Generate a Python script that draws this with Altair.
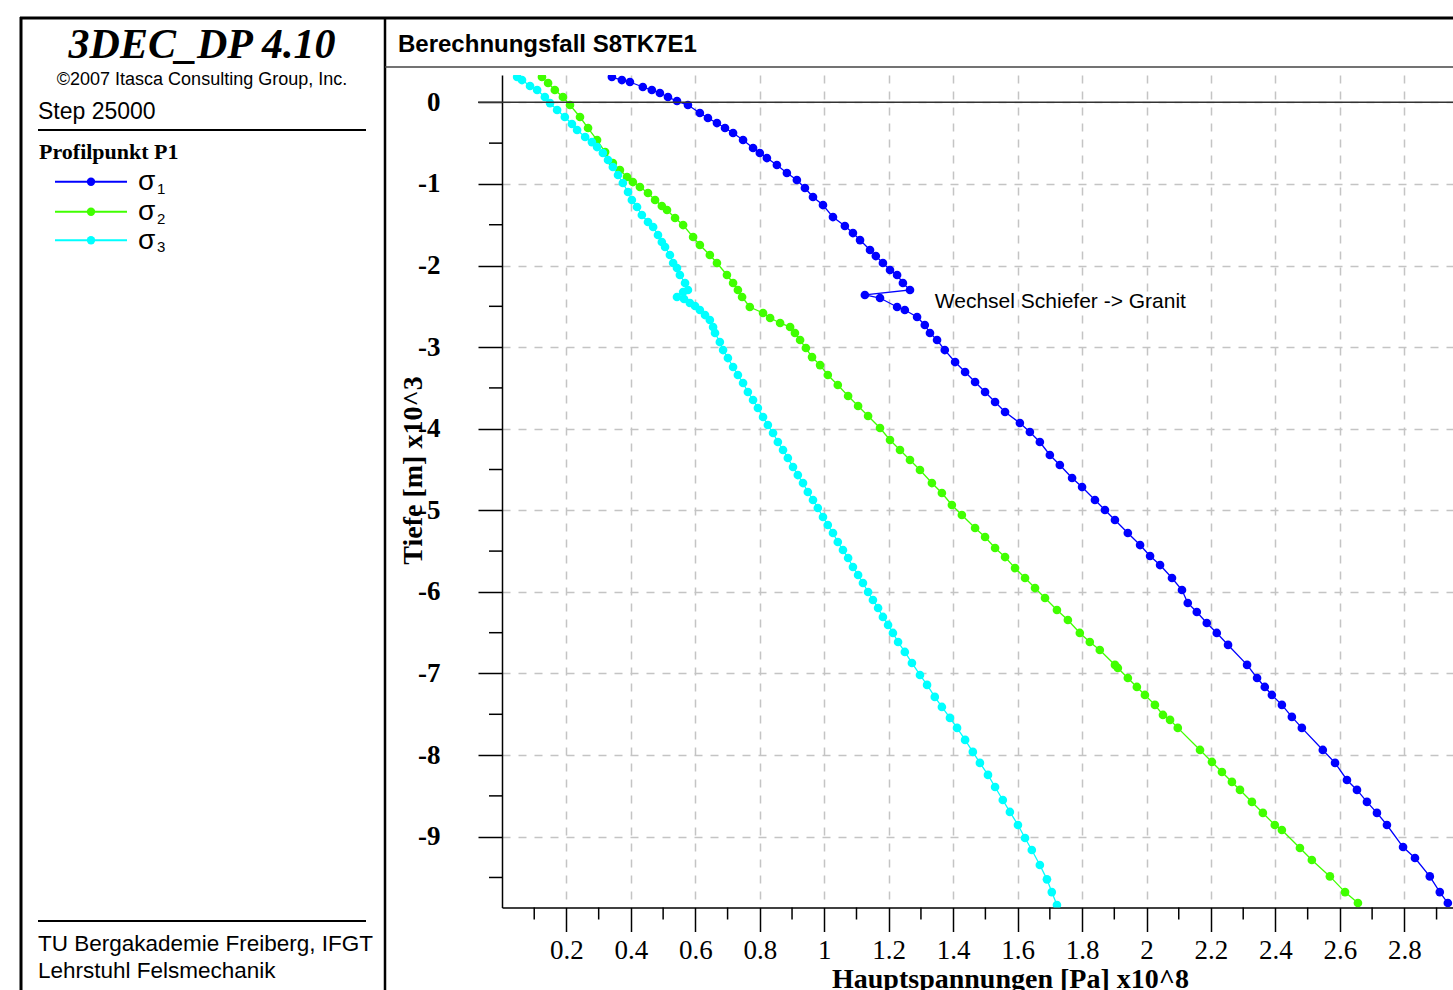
import altair as alt
import pandas as pd

# ---------------- data (stress in 1e8 Pa, depth in 1e3 m) ----------------
series_names = ["σ1", "σ2", "σ3"]
series_colors = ["#0000ff", "#40ff00", "#00ffff"]

s1_x = [0.341, 0.372, 0.397, 0.437, 0.465, 0.490, 0.515, 0.543, 0.577, 0.614, 0.639, 0.667,
        0.692, 0.717, 0.748, 0.779, 0.800, 0.822, 0.853, 0.884, 0.915, 0.940, 0.965, 0.996,
        1.027, 1.064, 1.089, 1.111, 1.142, 1.160, 1.182, 1.204, 1.226, 1.244, 1.266, 1.126,
        1.173, 1.226, 1.250, 1.288, 1.312, 1.328, 1.350, 1.374, 1.406, 1.437, 1.468, 1.499,
        1.530, 1.561, 1.607, 1.638, 1.669, 1.700, 1.731, 1.769, 1.800, 1.840, 1.871, 1.902,
        1.942, 1.980, 2.011, 2.042, 2.079, 2.110, 2.128, 2.156, 2.187, 2.218, 2.253, 2.312,
        2.343, 2.367, 2.389, 2.420, 2.451, 2.482, 2.547, 2.585, 2.622, 2.653, 2.684, 2.715,
        2.746, 2.796, 2.833, 2.879, 2.910, 2.935]
s1_y = [0.310, 0.273, 0.249, 0.188, 0.151, 0.114, 0.065, 0.016, -0.033, -0.131, -0.192, -0.254,
        -0.315, -0.376, -0.462, -0.560, -0.621, -0.683, -0.768, -0.866, -0.952, -1.050, -1.160, -1.259,
        -1.406, -1.516, -1.602, -1.688, -1.810, -1.884, -1.969, -2.055, -2.116, -2.214, -2.300, -2.361,
        -2.398, -2.508, -2.545, -2.631, -2.729, -2.827, -2.913, -3.036, -3.183, -3.305, -3.428, -3.550,
        -3.673, -3.795, -3.930, -4.040, -4.163, -4.322, -4.445, -4.604, -4.715, -4.874, -4.996, -5.119,
        -5.278, -5.426, -5.560, -5.671, -5.830, -5.977, -6.136, -6.246, -6.381, -6.503, -6.650, -6.895,
        -7.055, -7.165, -7.263, -7.385, -7.532, -7.667, -7.937, -8.096, -8.305, -8.427, -8.574, -8.709,
        -8.857, -9.127, -9.261, -9.487, -9.679, -9.813]

s2_x = [0.124, 0.143, 0.164, 0.189, 0.211, 0.242, 0.267, 0.295, 0.320, 0.344, 0.366, 0.388,
        0.406, 0.428, 0.453, 0.475, 0.496, 0.512, 0.537, 0.562, 0.593, 0.614, 0.645, 0.667,
        0.698, 0.717, 0.732, 0.745, 0.769, 0.810, 0.832, 0.863, 0.894, 0.909, 0.925, 0.943,
        0.962, 0.987, 1.011, 1.042, 1.074, 1.105, 1.136, 1.173, 1.204, 1.235, 1.266, 1.297,
        1.334, 1.365, 1.396, 1.427, 1.468, 1.499, 1.530, 1.561, 1.592, 1.623, 1.654, 1.685,
        1.722, 1.756, 1.793, 1.824, 1.855, 1.902, 1.911, 1.942, 1.970, 1.995, 2.026, 2.051,
        2.073, 2.097, 2.166, 2.203, 2.234, 2.265, 2.290, 2.327, 2.361, 2.398, 2.420, 2.476,
        2.513, 2.569, 2.616, 2.656]
s2_y = [0.310, 0.237, 0.151, 0.065, -0.033, -0.180, -0.315, -0.462, -0.609, -0.744, -0.830, -0.915,
        -0.977, -1.038, -1.111, -1.197, -1.271, -1.320, -1.418, -1.504, -1.651, -1.749, -1.871, -1.969,
        -2.116, -2.214, -2.300, -2.386, -2.508, -2.582, -2.643, -2.704, -2.754, -2.827, -2.913, -3.011,
        -3.122, -3.220, -3.342, -3.464, -3.599, -3.722, -3.844, -3.991, -4.138, -4.261, -4.384, -4.506,
        -4.666, -4.788, -4.935, -5.058, -5.217, -5.327, -5.462, -5.573, -5.708, -5.830, -5.953, -6.075,
        -6.222, -6.344, -6.503, -6.614, -6.712, -6.895, -6.932, -7.055, -7.165, -7.263, -7.385, -7.508,
        -7.569, -7.667, -7.937, -8.084, -8.207, -8.329, -8.427, -8.574, -8.709, -8.857, -8.918, -9.139,
        -9.286, -9.487, -9.679, -9.813]

s3_x = [0.047, 0.062, 0.087, 0.109, 0.133, 0.149, 0.171, 0.195, 0.217, 0.233, 0.258, 0.279,
        0.295, 0.313, 0.329, 0.344, 0.360, 0.375, 0.391, 0.403, 0.419, 0.434, 0.453, 0.469,
        0.484, 0.496, 0.506, 0.521, 0.531, 0.543, 0.552, 0.568, 0.577, 0.562, 0.543, 0.565,
        0.583, 0.599, 0.614, 0.630, 0.645, 0.655, 0.661, 0.676, 0.686, 0.701, 0.717, 0.732,
        0.748, 0.763, 0.779, 0.794, 0.810, 0.825, 0.841, 0.856, 0.872, 0.887, 0.903, 0.918,
        0.934, 0.949, 0.965, 0.980, 0.996, 1.011, 1.027, 1.042, 1.058, 1.074, 1.089, 1.105,
        1.120, 1.136, 1.151, 1.167, 1.182, 1.198, 1.213, 1.229, 1.250, 1.272, 1.297, 1.319,
        1.343, 1.365, 1.390, 1.412, 1.437, 1.461, 1.483, 1.508, 1.530, 1.554, 1.576, 1.601,
        1.623, 1.644, 1.669, 1.691, 1.706, 1.722]
s3_y = [0.310, 0.273, 0.200, 0.151, 0.065, -0.009, -0.094, -0.180, -0.266, -0.339, -0.425, -0.487,
        -0.548, -0.621, -0.707, -0.793, -0.891, -0.989, -1.099, -1.197, -1.283, -1.381, -1.467, -1.528,
        -1.626, -1.712, -1.773, -1.871, -1.969, -2.031, -2.116, -2.214, -2.300, -2.325, -2.386, -2.410,
        -2.459, -2.496, -2.545, -2.607, -2.668, -2.754, -2.827, -2.938, -3.036, -3.134, -3.244, -3.342,
        -3.440, -3.550, -3.648, -3.746, -3.856, -3.955, -4.053, -4.163, -4.261, -4.359, -4.469, -4.568,
        -4.666, -4.776, -4.874, -4.972, -5.082, -5.180, -5.278, -5.389, -5.487, -5.585, -5.695, -5.793,
        -5.891, -6.001, -6.099, -6.197, -6.307, -6.405, -6.503, -6.614, -6.736, -6.871, -7.018, -7.140,
        -7.287, -7.410, -7.544, -7.667, -7.814, -7.961, -8.096, -8.243, -8.391, -8.550, -8.697, -8.857,
        -9.016, -9.163, -9.347, -9.523, -9.679, -9.838]

x_major_ticks = [0.2, 0.4, 0.6, 0.8, 1.0, 1.2, 1.4, 1.6, 1.8, 2.0, 2.2, 2.4, 2.6, 2.8]
x_minor_ticks = [0.1, 0.3, 0.5, 0.7, 0.9, 1.1, 1.3, 1.5, 1.7, 1.9, 2.1, 2.3, 2.5, 2.7, 2.9]
y_major_ticks = [0, -1, -2, -3, -4, -5, -6, -7, -8, -9]
y_minor_ticks = [-0.5, -1.5, -2.5, -3.5, -4.5, -5.5, -6.5, -7.5, -8.5, -9.5]

annotation_text = "Wechsel Schiefer -> Granit"
annotation_pos = (1.343, -2.447)

# ---------------- build table ----------------
rows = []
for name, xs, ys in zip(series_names, [s1_x, s2_x, s3_x], [s1_y, s2_y, s3_y]):
    for i, (xv, yv) in enumerate(zip(xs, ys)):
        rows.append({"s": name, "i": i, "x": xv, "y": yv})
df = pd.DataFrame(rows)

W, H = 951, 832.5
SERIF = "Liberation Serif"
SANS = "Liberation Sans"

xscale = alt.Scale(domain=[0, 2.951], nice=False, zero=False)
yscale = alt.Scale(domain=[-9.868, 0.335], nice=False, zero=False)
cscale = alt.Scale(domain=series_names, range=series_colors)

x_axis = alt.Axis(values=x_major_ticks, labelExpr="format(datum.value, '.1~f')",
                  tickSize=24, tickColor="black", tickWidth=1.5,
                  domainColor="black", domainWidth=1.5,
                  labelFont=SERIF, labelFontSize=27, labelColor="black", labelPadding=6,
                  labelFlush=False, labelOverlap=False,
                  grid=True, gridColor="#c4c4c4", gridDash=[8, 8], gridWidth=1.5,
                  title="Hauptspannungen [Pa] x10^8", titleFont=SERIF, titleFontSize=28,
                  titleFontWeight="bold", titleColor="black",
                  titleX=508, titleY=80, titleAlign="center", titleBaseline="alphabetic")
y_axis = alt.Axis(values=y_major_ticks, labelExpr="'' + datum.value",
                  tickSize=24, tickColor="black", tickWidth=1.5,
                  domainColor="black", domainWidth=1.5,
                  labelFont=SERIF, labelFontSize=27, labelFontWeight="bold", labelColor="black",
                  labelPadding=38, labelFlush=False, labelOverlap=False,
                  grid=True, gridColor="#c4c4c4", gridDash=[8, 8], gridWidth=1.5,
                  title="Tiefe [m] x10^3", titleFont=SERIF, titleFontSize=28,
                  titleFontWeight="bold", titleColor="black",
                  titleX=-81, titleY=395, titleAngle=270, titleAlign="center",
                  titleBaseline="alphabetic")

base = alt.Chart(df)
enc_x = alt.X("x:Q", scale=xscale, axis=x_axis)
enc_y = alt.Y("y:Q", scale=yscale, axis=y_axis)
enc_c = alt.Color("s:N", scale=cscale, legend=None)

lines = base.mark_line(strokeWidth=1.3, clip=True).encode(
    x=enc_x, y=enc_y, color=enc_c, order=alt.Order("i:Q"))
points = base.mark_circle(size=75, opacity=1, clip=True).encode(
    x=alt.X("x:Q"), y=alt.Y("y:Q"), color=enc_c)

xminor = alt.Chart(pd.DataFrame({"x": x_minor_ticks})).mark_rule(
    color="black", strokeWidth=1.5).encode(x=alt.X("x:Q"), y=alt.value(H), y2=alt.value(H + 12))
yminor = alt.Chart(pd.DataFrame({"y": y_minor_ticks})).mark_rule(
    color="black", strokeWidth=1.5).encode(y=alt.Y("y:Q"), x=alt.value(-13), x2=alt.value(0))
zero_line = alt.Chart(pd.DataFrame({"y": [0]})).mark_rule(
    color="#333333", strokeWidth=1.5).encode(y=alt.Y("y:Q"), x=alt.value(-24), x2=alt.value(W))

annot = alt.Chart(pd.DataFrame({"x": [annotation_pos[0]], "y": [annotation_pos[1]]})).mark_text(
    text=annotation_text, font=SANS, fontSize=21, align="left", baseline="middle",
    color="black").encode(x=alt.X("x:Q"), y=alt.Y("y:Q"))

one = pd.DataFrame({"k": [0]})


def hrule(x1, x2, y, color="black", w=1.5):
    return alt.Chart(one).mark_rule(color=color, strokeWidth=w).encode(
        x=alt.value(x1), x2=alt.value(x2), y=alt.value(y))


def vrule(x, y1, y2, color="black", w=1.5):
    return alt.Chart(one).mark_rule(color=color, strokeWidth=w).encode(
        x=alt.value(x), y=alt.value(y1), y2=alt.value(y2))


def text(t, x, y, font=SANS, size=20, weight="normal", style="normal", align="left"):
    return alt.Chart(one).mark_text(text=t, font=font, fontSize=size, fontWeight=weight,
                                    fontStyle=style, align=align, baseline="alphabetic",
                                    color="black").encode(x=alt.value(x), y=alt.value(y))


deco = [
    hrule(-482, W, -57, w=3),
    vrule(-481, -58, H + 100, w=3),
    vrule(-117, -58, H + 100, w=2.5),
    hrule(-117, W, -8, color="#444444", w=1.5),
    hrule(-464, -136, 55, w=2),
    hrule(-464, -136, 846, w=2),
    text("Berechnungsfall S8TK7E1", -104, -23, font=SANS, size=24, weight="bold"),
    text("3DEC_DP 4.10", -300, -17, font=SERIF, size=42, weight="bold", style="italic", align="center"),
    text("©2007 Itasca Consulting Group, Inc.", -300, 10, font=SANS, size=18, align="center"),
    text("Step 25000", -464, 44, font=SANS, size=23),
    text("Profilpunkt P1", -463, 84, font=SERIF, size=22, weight="bold"),
    text("TU Bergakademie Freiberg, IFGT", -464, 876, font=SANS, size=22.5),
    text("Lehrstuhl Felsmechanik", -464, 903, font=SANS, size=22.5),
]

legend_rows = [106.7, 136.7, 165.3]
legend = []
for name, col, ry in zip(series_names, series_colors, legend_rows):
    legend.append(alt.Chart(one).mark_rule(color=col, strokeWidth=2).encode(
        x=alt.value(-447), x2=alt.value(-375), y=alt.value(ry)))
    legend.append(alt.Chart(one).mark_circle(color=col, size=70, opacity=1).encode(
        x=alt.value(-411), y=alt.value(ry)))
    legend.append(text(name[0], -364, ry + 8.5, font=SANS, size=28))
    legend.append(text(name[1:], -345, ry + 12, font=SANS, size=15))

chart = alt.layer(
    lines, points, xminor, yminor, zero_line, annot, *deco, *legend
).properties(
    width=W, height=H,
    padding={"left": 502, "top": 75, "right": 0, "bottom": 82.5},
    autosize=alt.AutoSizeParams(type="none"),
    background="white",
).configure_view(strokeWidth=0)

chart.save("out.html", embed_options={"renderer": "svg", "actions": False})
